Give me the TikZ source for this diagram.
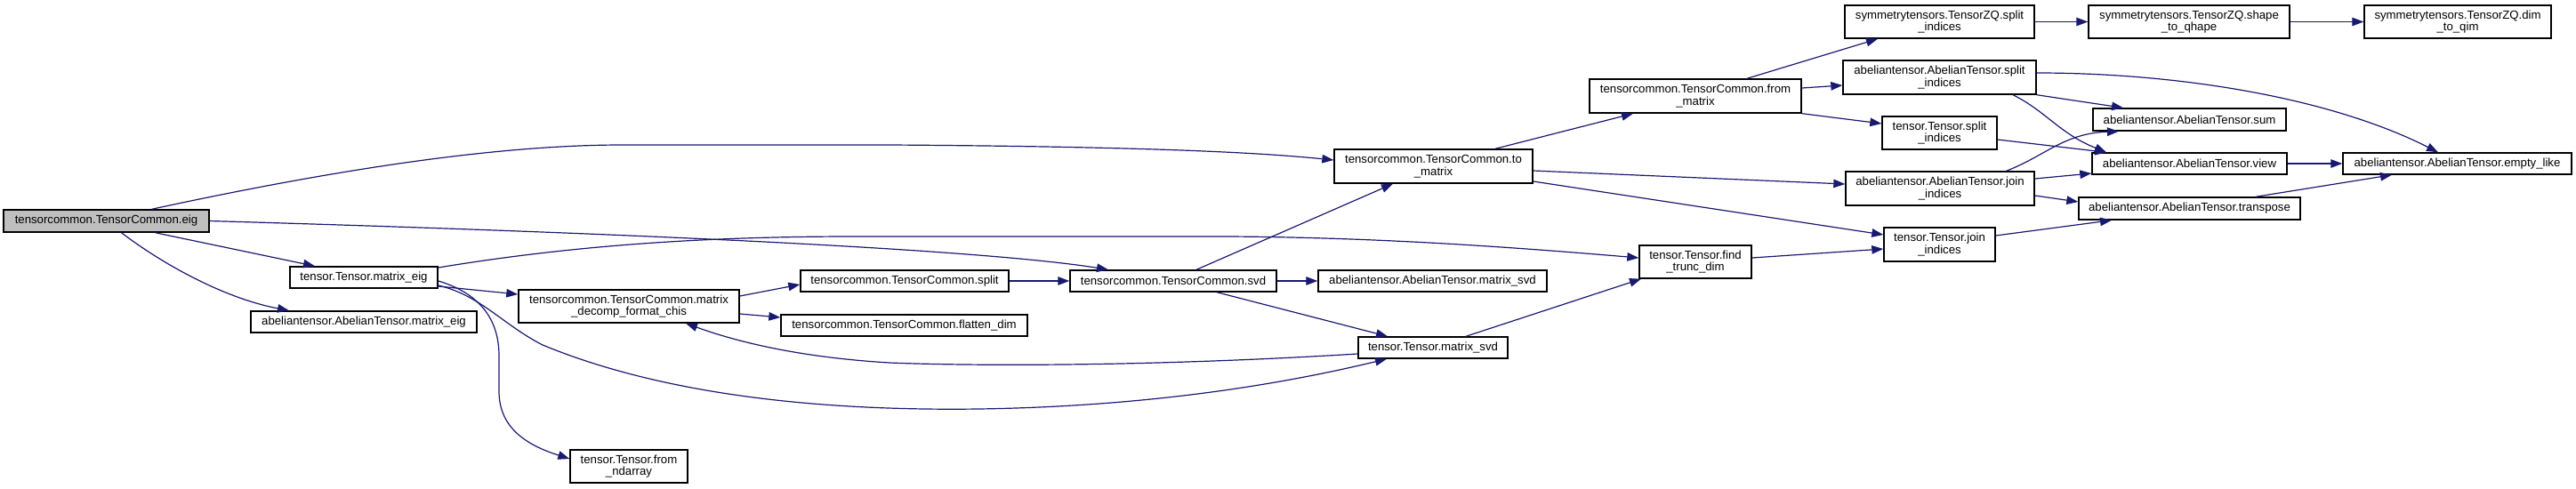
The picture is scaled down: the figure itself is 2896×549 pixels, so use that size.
\documentclass[tikz,border=0pt]{standalone}
\usepackage{fontspec}
\setmainfont{Liberation Sans}
\usetikzlibrary{arrows.meta}
\definecolor{edgeblue}{HTML}{191970}
\definecolor{rootgray}{HTML}{BFBFBF}
\begin{document}
\begin{tikzpicture}[x=1pt,y=-1pt,
  fn/.style={draw=black, line width=1.4pt, fill=white, inner xsep=2pt, inner ysep=0pt, align=center, font=\fontsize{13.2}{13.5}\selectfont},
  e/.style={draw=edgeblue, line width=1.2pt, -{Triangle[length=13pt,width=9.5pt]}}]
\useasboundingbox (0,0) rectangle (2896,549);
\node[fn, fill=rootgray, minimum width=231pt, minimum height=25pt] (eig) at (119.5,248.5) {tensorcommon.TensorCommon.eig};
\node[fn, minimum width=166pt, minimum height=24pt] (meig) at (409,312) {tensor.Tensor.matrix\_eig};
\node[fn, minimum width=254pt, minimum height=24pt] (ameig) at (409,362) {abeliantensor.AbelianTensor.matrix\_eig};
\node[fn, minimum width=248pt, minimum height=37pt] (decomp) at (707,344.5) {tensorcommon.TensorCommon.matrix\\\_decomp\_format\_chis};
\node[fn, minimum width=132pt, minimum height=37pt] (ndarray) at (707,524.5) {tensor.Tensor.from\\\_ndarray};
\node[fn, minimum width=234pt, minimum height=24pt] (split) at (1017,316) {tensorcommon.TensorCommon.split};
\node[fn, minimum width=277pt, minimum height=24pt] (flatten) at (1016.5,366) {tensorcommon.TensorCommon.flatten\_dim};
\node[fn, minimum width=232pt, minimum height=24pt] (svd) at (1319,316) {tensorcommon.TensorCommon.svd};
\node[fn, minimum width=257pt, minimum height=24pt] (amsvd) at (1610.5,316) {abeliantensor.AbelianTensor.matrix\_svd};
\node[fn, minimum width=168pt, minimum height=24pt] (tmsvd) at (1611,391) {tensor.Tensor.matrix\_svd};
\node[fn, minimum width=223pt, minimum height=38pt] (tomat) at (1611.5,187) {tensorcommon.TensorCommon.to\\\_matrix};
\node[fn, minimum width=238pt, minimum height=38pt] (frommat) at (1906,108) {tensorcommon.TensorCommon.from\\\_matrix};
\node[fn, minimum width=126pt, minimum height=37pt] (trunc) at (1906,294.5) {tensor.Tensor.find\\\_trunc\_dim};
\node[fn, minimum width=129pt, minimum height=37pt] (tsplit) at (2180.5,149.5) {tensor.Tensor.split\\\_indices};
\node[fn, minimum width=212pt, minimum height=38pt] (ajoin) at (2181,212) {abeliantensor.AbelianTensor.join\\\_indices};
\node[fn, minimum width=125pt, minimum height=38pt] (tjoin) at (2180.5,275) {tensor.Tensor.join\\\_indices};
\node[fn, minimum width=213pt, minimum height=37pt] (zqsplit) at (2180.5,24.5) {symmetrytensors.TensorZQ.split\\\_indices};
\node[fn, minimum width=217pt, minimum height=38pt] (asplit) at (2180.5,87) {abeliantensor.AbelianTensor.split\\\_indices};
\node[fn, minimum width=226pt, minimum height=37pt] (qhape) at (2461,24.5) {symmetrytensors.TensorZQ.shape\\\_to\_qhape};
\node[fn, minimum width=210pt, minimum height=37pt] (qim) at (2763,24.5) {symmetrytensors.TensorZQ.dim\\\_to\_qim};
\node[fn, minimum width=217pt, minimum height=25pt] (sum) at (2461.5,134.5) {abeliantensor.AbelianTensor.sum};
\node[fn, minimum width=219pt, minimum height=24pt] (view) at (2461.5,184) {abeliantensor.AbelianTensor.view};
\node[fn, minimum width=257pt, minimum height=24pt] (empty) at (2762.5,184) {abeliantensor.AbelianTensor.empty\_like};
\node[fn, minimum width=249pt, minimum height=25pt] (transp) at (2461.5,234.5) {abeliantensor.AbelianTensor.transpose};
% edges
\draw[e] ([xshift=51pt]eig.north) .. controls (380,190) and (560,163) .. (700,163) -- (1000,163) .. controls (1300,165) and (1420,172) .. ([yshift=7pt]tomat.west);
\draw[e] (eig.east) .. controls (700,262) and (1100,280) .. ([xshift=-73pt]svd.north);
\draw[e] ([xshift=55pt]eig.south) -- ([xshift=-55pt]meig.north);
\draw[e] ([xshift=17pt]eig.south) .. controls (180,295) and (250,335) .. ([xshift=-84pt]ameig.north);
\draw[e] ([yshift=11pt]meig.east) .. controls (650,275) and (800,266) .. (960,266) -- (1380,266) .. controls (1550,267) and (1700,278) .. ([yshift=4.5pt]trunc.west);
\draw[e] ([yshift=-10pt]meig.east) -- ([yshift=13.5pt]decomp.west);
\draw[e] ([yshift=-4pt]meig.east) .. controls (540,330) and (561,360) .. (561,400) -- (561,440) .. controls (561,480) and (590,500) .. ([yshift=8.5pt]ndarray.west);
\draw[e] ([yshift=-9pt]meig.east) .. controls (540,332) and (565,365) .. (610,388) .. controls (760,450) and (950,462) .. (1100,460) .. controls (1300,457) and (1450,430) .. ([xshift=-52pt]tmsvd.south);
\draw[e] ([yshift=-7pt]tmsvd.west) .. controls (1300,412) and (1100,412) .. (1000,408) .. controls (900,402) and (830,385) .. ([xshift=64pt]decomp.south);
\draw[e] ([yshift=11.5pt]decomp.east) -- ([yshift=-4pt]split.west);
\draw[e] ([yshift=-8.5pt]decomp.east) -- ([yshift=9pt]flatten.west);
\draw[e] (split.east) -- (svd.west);
\draw[e] ([xshift=26pt]svd.north) -- ([xshift=-45.5pt]tomat.south);
\draw[e] (svd.east) -- (amsvd.west);
\draw[e] ([xshift=49pt]svd.south) -- ([xshift=-51pt]tmsvd.north);
\draw[e] ([xshift=37pt]tmsvd.north) -- ([xshift=-61pt]trunc.south);
\draw[e] ([xshift=69.5pt]tomat.north) -- ([xshift=-70pt]frommat.south);
\draw[e] ([yshift=-5pt]tomat.east) -- ([yshift=5pt]ajoin.west);
\draw[e] ([yshift=-17pt]tomat.east) -- ([yshift=11pt]tjoin.west);
\draw[e] ([yshift=4.5pt]trunc.east) -- ([yshift=-5pt]tjoin.west);
\draw[e] ([xshift=58pt]frommat.north) -- ([xshift=-69.5pt]zqsplit.south);
\draw[e] ([yshift=9pt]frommat.east) -- ([yshift=-9pt]asplit.west);
\draw[e] (frommat.south east) -- ([yshift=10.5pt]tsplit.west);
\draw[e] (zqsplit.east) -- (qhape.west);
\draw[e] (qhape.east) -- (qim.west);
\draw[e] ([yshift=5pt]asplit.east) .. controls (2450,82) and (2620,110) .. ([xshift=-21.5pt]empty.north);
\draw[e] (asplit.south east) -- ([xshift=-74.5pt]sum.north);
\draw[e] ([xshift=82.5pt]asplit.south) .. controls (2300,125) and (2315,150) .. ([xshift=-93.5pt]view.north);
\draw[e] ([yshift=-7.5pt]tsplit.east) -- ([xshift=-93.5pt]view.north);
\draw[e] ([xshift=74.5pt]ajoin.north) .. controls (2300,175) and (2320,150) .. ([xshift=-79.5pt]sum.south);
\draw[e] ([yshift=11pt]ajoin.east) -- ([yshift=-11pt]view.west);
\draw[e] ([yshift=-8pt]ajoin.east) -- ([yshift=7.5pt]transp.west);
\draw[e] (view.east) -- (empty.west);
\draw[e] ([xshift=74.5pt]transp.north) -- ([xshift=-73.5pt]empty.south);
\draw[e] ([yshift=10pt]tjoin.east) -- ([xshift=-87.5pt]transp.south);
\end{tikzpicture}
\end{document}
